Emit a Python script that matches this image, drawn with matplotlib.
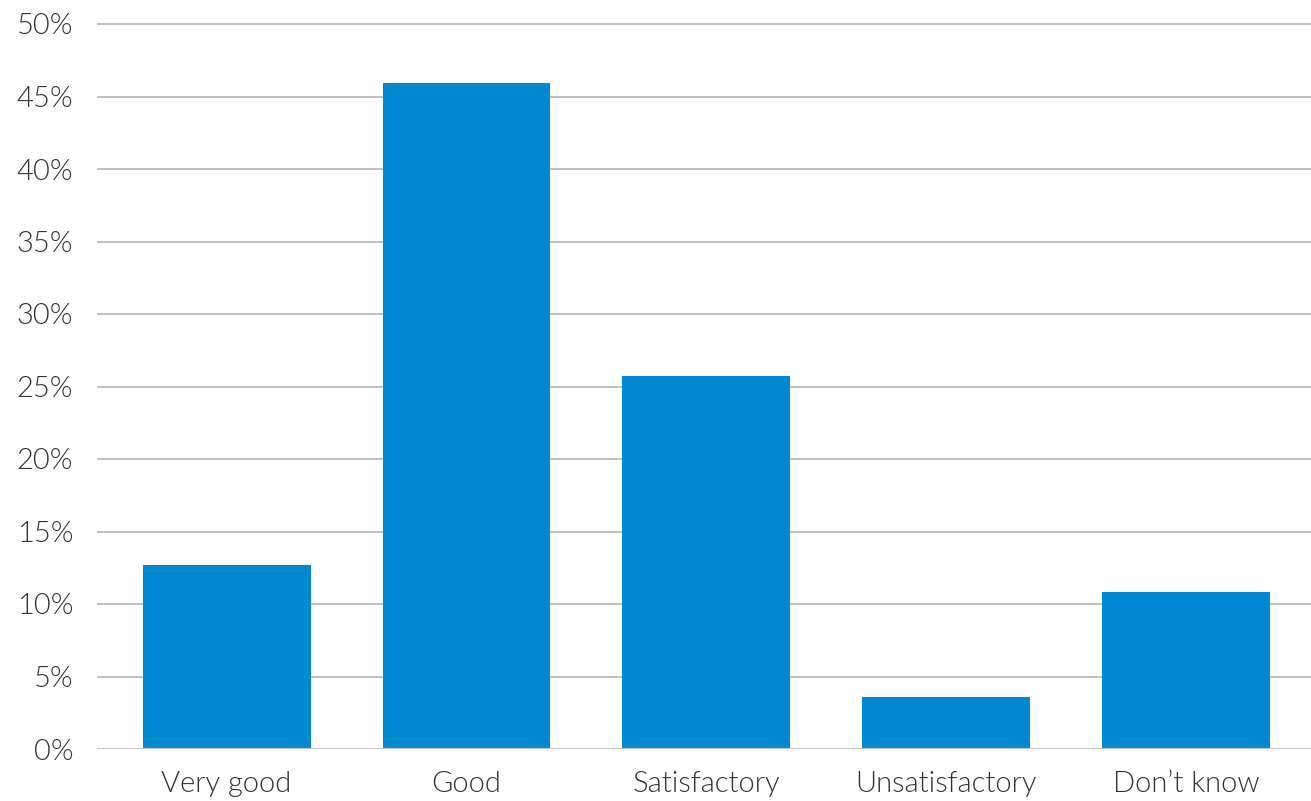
import matplotlib
matplotlib.use('Agg')
import matplotlib.pyplot as plt
from matplotlib.ticker import FuncFormatter

categories = ['Very good', 'Good', 'Satisfactory', 'Unsatisfactory', 'Don\u2019t know']
values = [12.7, 45.9, 25.7, 3.6, 10.8]
yticks = [0, 5, 10, 15, 20, 25, 30, 35, 40, 45, 50]

plt.rcParams['font.family'] = ['Lato', 'DejaVu Sans']
plt.rcParams['font.weight'] = 300

fig = plt.figure(figsize=(13.11, 8.01), dpi=100)
ax = fig.add_axes([97 / 1311, 1 - 749 / 801, 1 - 97 / 1311, (749 - 20) / 801])

x = list(range(len(categories)))
ax.bar(x, values, width=0.70, color='#0088d1', zorder=3)

ax.set_ylim(0, 50 * (749 - 20) / (749 - 24))
ax.set_xlim(-0.54, 4.52)
ax.set_yticks(yticks)
ax.yaxis.set_major_formatter(FuncFormatter(lambda v, p: f'{v:.0f}%'))
ax.set_xticks(x)
ax.set_xticklabels(categories)

ax.grid(axis='y', color='#b4b4b4', linewidth=1.2, zorder=0)
ax.axhline(0, color='#c8c8c8', linewidth=2.2, zorder=4)
for s in ax.spines.values():
    s.set_visible(False)
ax.tick_params(axis='both', length=0, labelsize=21, colors='#333333')
ax.tick_params(axis='y', pad=17)
ax.tick_params(axis='x', pad=16)

fig.savefig('out.png', dpi=100)
